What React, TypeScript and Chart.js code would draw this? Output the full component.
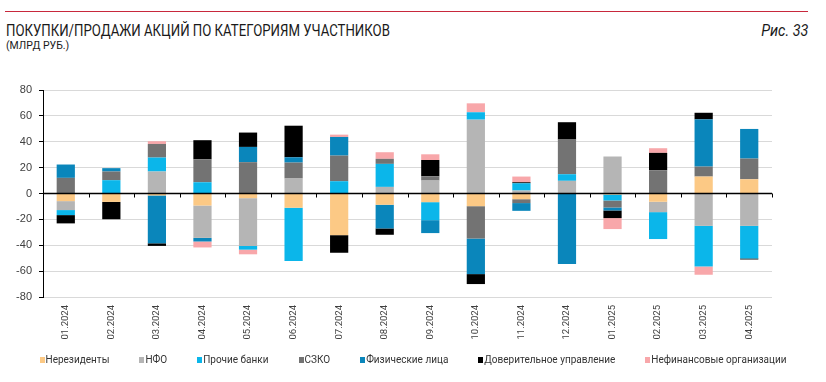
import React, { useEffect, useRef } from "react";
import { Chart, registerables } from "chart.js";

Chart.register(...registerables);

const categories = [
  "01.2024", "02.2024", "03.2024", "04.2024", "05.2024", "06.2024", "07.2024", "08.2024",
  "09.2024", "10.2024", "11.2024", "12.2024", "01.2025", "02.2025", "03.2025", "04.2025",
];

const nonResidents = [-5.9, -6.5, -1.5, -9.3, -3.6, -11, -32.2, -8.7, -6.7, -9.8, -4.4, 0, -0.8, -6.4, 13.1, 11];
const nfo = [-6.9, 0, 17, -25, -37, 11.6, 0, 5.1, 10, 57.1, 2.3, 9.8, 28.6, -8, -25, -25];
const otherBanks = [-3.9, 10.3, 10.8, 8.7, -2.8, -41.2, 9.5, 17.8, -13.9, 5.7, 5.6, 5.1, -4.6, -20.8, -31.4, -25.2];
const szko = [12.1, 6.7, 10.5, 17.8, 24.2, 12.3, 19.8, 3.9, 3.3, -25, -3, 26.8, -5.4, 18, 7.7, 16];
const individuals = [10.3, 2.6, -37, -2.8, 11.8, 4.1, 14.4, -18.3, -10, -27.5, -6, -54.5, -2.3, 0, 36.5, 22.9];
const trustManagement = [-6.4, -13.4, -2, 14.7, 11.1, 24.4, -13.6, -4.9, 12.6, -7.7, 0.8, 13.4, -5.9, 13.4, 5.1, -0.8];
const nonFinancial = [0, 0, 2.1, -4.6, -3.6, 0, 1.8, 5.1, 4.4, 6.9, 4.4, 0, -8.5, 3.6, -6.4, 0];

const yTicks = [-80, -60, -40, -20, 0, 20, 40, 60, 80];

const seriesNames = [
  "Нерезиденты", "НФО", "Прочие банки", "СЗКО", "Физические лица",
  "Доверительное управление", "Нефинансовые организации",
];
const seriesColors = ["#fcc985", "#b5b5b5", "#0bb6ea", "#737373", "#0a86bb", "#000000", "#f8a7aa"];

const FONT = 'Roboto, "Liberation Sans", sans-serif';

const zeroLinePlugin = {
  id: "zeroLine",
  afterDatasetsDraw(chart: any) {
    const { ctx, chartArea, scales } = chart;
    const y0 = scales.y.getPixelForValue(0);
    ctx.save();
    ctx.strokeStyle = "#000";
    ctx.lineWidth = 1.5;
    ctx.beginPath();
    ctx.moveTo(chartArea.left, y0);
    ctx.lineTo(chartArea.right, y0);
    ctx.stroke();
    ctx.lineWidth = 1;
    const n = categories.length;
    const w = (chartArea.right - chartArea.left) / n;
    for (let i = 1; i <= n; i++) {
      const x = Math.round(chartArea.left + i * w) + 0.5;
      ctx.beginPath();
      ctx.moveTo(x, y0);
      ctx.lineTo(x, y0 + 4);
      ctx.stroke();
    }
    ctx.restore();
  },
};

export default function App() {
  const ref = useRef<HTMLCanvasElement | null>(null);

  useEffect(() => {
    if (!ref.current) return;
    const data = [nonResidents, nfo, otherBanks, szko, individuals, trustManagement, nonFinancial];
    const chart = new Chart(ref.current, {
      type: "bar",
      data: {
        labels: categories,
        datasets: data.map((d, i) => ({
          label: seriesNames[i],
          data: d,
          backgroundColor: seriesColors[i],
          borderWidth: 0,
          categoryPercentage: 0.8,
          barPercentage: 0.5,
        })),
      },
      plugins: [zeroLinePlugin],
      options: {
        animation: false,
        responsive: false,
        maintainAspectRatio: false,
        layout: { padding: { top: 30, right: 54, left: 0, bottom: 35 } },
        plugins: {
          tooltip: { enabled: false },
          legend: { display: false },
        },
        scales: {
          x: {
            stacked: true,
            grid: { display: false, drawTicks: false },
            border: { display: false },
            ticks: {
              autoSkip: false,
              minRotation: 90,
              maxRotation: 90,
              padding: 8,
              color: "#404040",
              font: { family: FONT, size: 9.5 },
            },
            afterFit: (s: any) => { s.height = 50; },
          },
          y: {
            stacked: true,
            min: -80,
            max: 80,
            afterBuildTicks: (s: any) => { s.ticks = yTicks.map((v) => ({ value: v })); },
            grid: {
              color: (c: any) => (c.tick && c.tick.value === 0 ? "rgba(0,0,0,0)" : "#d9d9d9"),
              tickColor: "#000",
              tickLength: 4,
              lineWidth: 1,
            },
            border: { display: true, color: "#000", width: 1 },
            ticks: {
              padding: 7,
              color: "#404040",
              font: { family: '"Liberation Sans", Arial, sans-serif', size: 11 },
            },
            afterFit: (s: any) => { s.width = 43; },
          },
        },
      },
    });
    return () => chart.destroy();
  }, []);

  return (
    <div style={{ position: "absolute", left: 0, top: 0, width: 826, height: 382, background: "#fff", fontFamily: FONT, color: "#1a1a1a" }}>
      <div style={{ position: "absolute", left: 5, top: 11, width: 803, height: 1, background: "#c8283c" }} />
      <div style={{ position: "absolute", left: 6, top: 22, fontSize: 16, lineHeight: "18px", whiteSpace: "nowrap", transform: "scaleX(0.825)", transformOrigin: "left top" }}>
        ПОКУПКИ/ПРОДАЖИ АКЦИЙ ПО КАТЕГОРИЯМ УЧАСТНИКОВ
      </div>
      <div style={{ position: "absolute", right: 18, top: 22, fontSize: 16, lineHeight: "18px", fontStyle: "italic", whiteSpace: "nowrap", transform: "scaleX(0.9)", transformOrigin: "right top" }}>
        Рис. 33
      </div>
      <div style={{ position: "absolute", left: 6, top: 39.5, fontSize: 10.5, lineHeight: "12px", whiteSpace: "nowrap" }}>
        (МЛРД РУБ.)
      </div>
      <canvas ref={ref} width={826} height={322} style={{ position: "absolute", left: 0, top: 60, width: 826, height: 322 }} />
      <div style={{ position: "absolute", left: 0, top: 353, width: 826, display: "flex", justifyContent: "center", gap: 30, fontSize: 10, lineHeight: "13px", color: "#333", whiteSpace: "nowrap" }}>
        {seriesNames.map((name, i) => (
          <div key={name} style={{ display: "flex", alignItems: "center" }}>
            <span style={{ display: "inline-block", width: 5, height: 6, background: seriesColors[i], marginRight: 1 }} />
            <span>{name}</span>
          </div>
        ))}
      </div>
    </div>
  );
}
